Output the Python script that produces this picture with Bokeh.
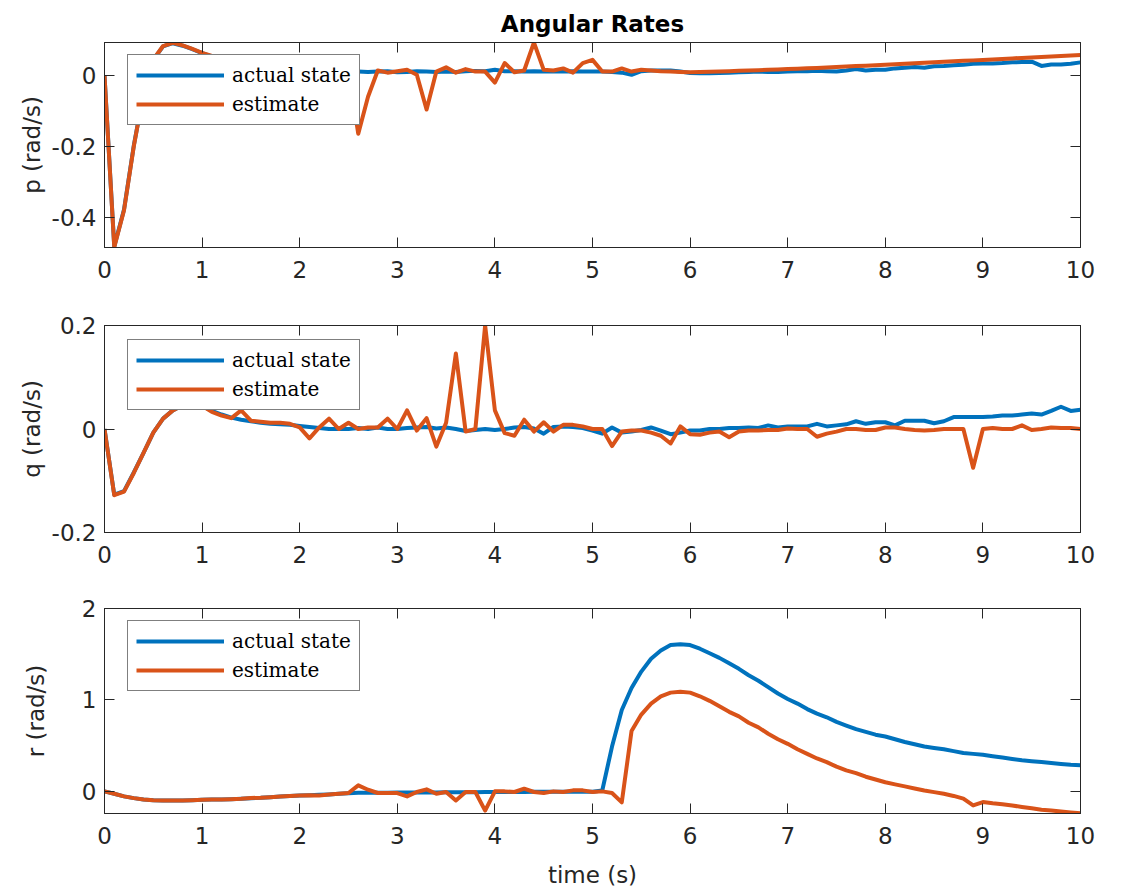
from bokeh.plotting import figure
from bokeh.layouts import column
from bokeh.models import Range1d, FixedTicker, LinearAxis, CustomJSTickFormatter
from bokeh.embed import file_html
from bokeh.resources import INLINE

# ---------------- data ----------------
time_s = [0.0, 0.1, 0.2, 0.3, 0.4, 0.5, 0.6, 0.7, 0.8, 0.9,
          1.0, 1.1, 1.2, 1.3, 1.4, 1.5, 1.6, 1.7, 1.8, 1.9,
          2.0, 2.1, 2.2, 2.3, 2.4, 2.5, 2.6, 2.7, 2.8, 2.9,
          3.0, 3.1, 3.2, 3.3, 3.4, 3.5, 3.6, 3.7, 3.8, 3.9,
          4.0, 4.1, 4.2, 4.3, 4.4, 4.5, 4.6, 4.7, 4.8, 4.9,
          5.0, 5.1, 5.2, 5.3, 5.4, 5.5, 5.6, 5.7, 5.8, 5.9,
          6.0, 6.1, 6.2, 6.3, 6.4, 6.5, 6.6, 6.7, 6.8, 6.9,
          7.0, 7.1, 7.2, 7.3, 7.4, 7.5, 7.6, 7.7, 7.8, 7.9,
          8.0, 8.1, 8.2, 8.3, 8.4, 8.5, 8.6, 8.7, 8.8, 8.9,
          9.0, 9.1, 9.2, 9.3, 9.4, 9.5, 9.6, 9.7, 9.8, 9.9, 10.0]

p_actual = [0.0, -0.482, -0.378, -0.198, -0.05, 0.044, 0.082, 0.091, 0.084, 0.074,
            0.063, 0.054, 0.047, 0.04, 0.035, 0.031, 0.028, 0.025, 0.022, 0.02,
            0.018, 0.016, 0.015, 0.014, 0.013, 0.012, 0.011, 0.01, 0.011, 0.012,
            0.009, 0.01, 0.012, 0.011, 0.01, 0.011, 0.01, 0.012, 0.013, 0.012,
            0.016, 0.012, 0.012, 0.011, 0.012, 0.011, 0.012, 0.011, 0.012, 0.011,
            0.011, 0.011, 0.01, 0.008, 0.002, 0.012, 0.014, 0.014, 0.014, 0.011,
            0.007, 0.006, 0.006, 0.007, 0.008, 0.009, 0.01, 0.011, 0.01, 0.01,
            0.011, 0.012, 0.012, 0.013, 0.012, 0.011, 0.014, 0.018, 0.014, 0.016,
            0.016, 0.02, 0.022, 0.024, 0.022, 0.026, 0.027, 0.029, 0.03, 0.033,
            0.034, 0.034, 0.035, 0.037, 0.038, 0.039, 0.027, 0.031, 0.031, 0.033, 0.037]

p_estimate = [0.0, -0.484, -0.38, -0.2, -0.05, 0.045, 0.083, 0.092, 0.085, 0.075,
              0.064, 0.055, 0.048, 0.042, 0.037, 0.033, 0.03, 0.027, 0.025, 0.022,
              0.02, 0.018, 0.016, 0.015, 0.014, 0.013, -0.164, -0.06, 0.014, 0.008,
              0.012, 0.016, 0.002, -0.096, 0.011, 0.023, 0.008, 0.018, 0.011, 0.011,
              -0.02, 0.035, 0.009, 0.014, 0.093, 0.016, 0.014, 0.02, 0.008, 0.035,
              0.044, 0.011, 0.011, 0.02, 0.011, 0.016, 0.014, 0.012, 0.011, 0.01,
              0.009, 0.0098, 0.0106, 0.0114, 0.0122, 0.013, 0.014, 0.015, 0.016, 0.017,
              0.018, 0.019, 0.0202, 0.0214, 0.0226, 0.024, 0.0252, 0.0264, 0.0276, 0.0288,
              0.03, 0.0314, 0.0328, 0.0342, 0.0356, 0.037, 0.0384, 0.0398, 0.0412, 0.0426,
              0.044, 0.0454, 0.0468, 0.0482, 0.0496, 0.051, 0.0524, 0.0538, 0.0552, 0.0566, 0.058]

q_actual = [0.0, -0.127, -0.12, -0.084, -0.046, -0.007, 0.02, 0.036, 0.046, 0.05,
            0.045, 0.035, 0.028, 0.022, 0.018, 0.015, 0.012, 0.01, 0.009, 0.008,
            0.006, 0.004, 0.002, 0.0, 0.0, 0.0, 0.002, 0.0, 0.003, 0.0,
            0.0, 0.002, 0.003, 0.004, 0.001, 0.003, 0.0, -0.004, -0.002, 0.0,
            -0.002, 0.0, 0.003, 0.004, 0.001, -0.009, 0.004, 0.005, 0.004, 0.002,
            -0.003, -0.009, 0.003, -0.007, -0.005, -0.002, 0.003, -0.003, -0.01, -0.007,
            -0.003, -0.003, 0.0, 0.0, 0.002, 0.002, 0.003, 0.002, 0.007, 0.003,
            0.005, 0.005, 0.005, 0.01, 0.005, 0.007, 0.009, 0.015, 0.01, 0.013,
            0.013, 0.007, 0.016, 0.016, 0.016, 0.011, 0.015, 0.023, 0.023, 0.023,
            0.023, 0.024, 0.026, 0.026, 0.028, 0.03, 0.028, 0.035, 0.043, 0.035, 0.037]

q_estimate = [0.0, -0.128, -0.121, -0.085, -0.046, -0.007, 0.02, 0.036, 0.046, 0.05,
              0.045, 0.033, 0.026, 0.021, 0.036, 0.016, 0.014, 0.012, 0.012, 0.01,
              0.003, -0.018, 0.003, 0.02, 0.0, 0.012, 0.0, 0.003, 0.003, 0.02,
              0.0, 0.036, -0.003, 0.021, -0.034, 0.012, 0.146, -0.005, 0.0, 0.2,
              0.036, -0.008, -0.013, 0.018, -0.005, 0.013, -0.005, 0.008, 0.008, 0.005,
              0.0, 0.0, -0.033, -0.005, -0.003, -0.003, -0.007, -0.013, -0.028, 0.005,
              -0.01, -0.011, -0.007, -0.005, -0.016, -0.005, -0.003, -0.003, -0.002, -0.002,
              0.001, 0.0, 0.0, -0.015, -0.009, -0.005, 0.0, 0.0, -0.002, -0.002,
              0.003, 0.003, 0.0, -0.002, -0.003, -0.002, 0.0, 0.0, 0.0, -0.075,
              0.0, 0.002, 0.0, 0.0, 0.007, -0.002, 0.0, 0.003, 0.002, 0.002, 0.0]

r_actual = [0.0, -0.026, -0.055, -0.074, -0.088, -0.096, -0.1, -0.1, -0.1, -0.096,
            -0.092, -0.09, -0.088, -0.085, -0.08, -0.074, -0.07, -0.063, -0.057, -0.051,
            -0.046, -0.042, -0.038, -0.033, -0.026, -0.02, -0.016, -0.015, -0.014, -0.014,
            -0.013, -0.013, -0.012, -0.012, -0.011, -0.01, -0.01, -0.009, -0.009, -0.008,
            -0.008, -0.007, -0.007, -0.006, -0.005, -0.004, -0.004, -0.004, -0.004, -0.004,
            -0.004, 0.01, 0.49, 0.89, 1.13, 1.31, 1.45, 1.54, 1.6, 1.61,
            1.6, 1.56, 1.51, 1.46, 1.4, 1.34, 1.27, 1.21, 1.14, 1.07,
            1.01, 0.96, 0.9, 0.85, 0.81, 0.76, 0.72, 0.68, 0.65, 0.62,
            0.6, 0.57, 0.54, 0.515, 0.49, 0.475, 0.46, 0.44, 0.42, 0.41,
            0.4, 0.385, 0.37, 0.355, 0.34, 0.33, 0.32, 0.31, 0.3, 0.29, 0.285]

r_estimate = [0.0, -0.026, -0.055, -0.074, -0.088, -0.096, -0.1, -0.1, -0.1, -0.096,
              -0.092, -0.09, -0.088, -0.085, -0.08, -0.072, -0.07, -0.063, -0.055, -0.05,
              -0.044, -0.042, -0.044, -0.033, -0.026, -0.018, 0.066, 0.018, -0.018, -0.018,
              -0.018, -0.055, -0.007, 0.022, -0.026, -0.007, -0.1, -0.007, -0.007, -0.21,
              0.0, 0.0, -0.007, 0.03, -0.007, -0.018, 0.0, -0.007, 0.011, 0.011,
              -0.007, 0.0, -0.018, -0.12, 0.66, 0.84, 0.96, 1.04, 1.08, 1.09,
              1.08, 1.04, 0.99, 0.93, 0.87, 0.82, 0.75, 0.7, 0.63, 0.57,
              0.52, 0.46, 0.41, 0.36, 0.32, 0.27, 0.23, 0.2, 0.16, 0.13,
              0.1, 0.077, 0.055, 0.032, 0.01, -0.008, -0.026, -0.05, -0.08, -0.154,
              -0.117, -0.13, -0.14, -0.155, -0.17, -0.185, -0.2, -0.21, -0.22, -0.23, -0.24]

x_ticks = [0, 1, 2, 3, 4, 5, 6, 7, 8, 9, 10]
p_ticks = [-0.4, -0.2, 0]
q_ticks = [-0.2, 0, 0.2]
r_ticks = [0, 1, 2]

# ---------------- style ----------------
BLUE = "#0072BD"
ORANGE = "#D95319"
AXC = "#262626"
SANS = "DejaVu Sans"
SERIF = "DejaVu Serif"
FMT = CustomJSTickFormatter(code="return String(Math.round(tick*10)/10)")


def blank():
    return CustomJSTickFormatter(code="return ''")


def make_panel(actual, estimate, ylab, yticks, yr, height, top, bottom,
               title=None, xlabel=None, ylab_standoff=4):
    p = figure(width=1122, height=height, output_backend="svg",
               toolbar_location=None, x_range=Range1d(0, 10), y_range=Range1d(*yr),
               min_border_left=104, min_border_right=42,
               min_border_top=top, min_border_bottom=bottom,
               background_fill_color="white", border_fill_color="white")
    p.grid.visible = False
    p.outline_line_color = AXC
    p.outline_line_width = 1

    p.line(time_s, actual, line_color=BLUE, line_width=4, line_join="round",
           legend_label="actual state")
    p.line(time_s, estimate, line_color=ORANGE, line_width=4, line_join="round",
           legend_label="estimate")

    for ax in (p.xaxis[0], p.yaxis[0]):
        ax.major_tick_in = 10
        ax.major_tick_out = 0
        ax.minor_tick_line_color = None
        ax.axis_line_color = AXC
        ax.major_tick_line_color = AXC
        ax.major_label_text_color = AXC
        ax.major_label_text_font = SANS
        ax.major_label_text_font_size = "23px"
        ax.axis_label_text_font = SANS
        ax.axis_label_text_font_size = "23px"
        ax.axis_label_text_font_style = "normal"
        ax.axis_label_text_color = AXC

    p.xaxis[0].ticker = FixedTicker(ticks=x_ticks)
    p.xaxis[0].formatter = FMT
    p.xaxis[0].major_label_standoff = 13
    p.yaxis[0].ticker = FixedTicker(ticks=yticks)
    p.yaxis[0].formatter = FMT
    p.yaxis[0].major_label_standoff = 8
    p.yaxis[0].axis_label = ylab
    p.yaxis[0].axis_label_standoff = ylab_standoff
    if xlabel:
        p.xaxis[0].axis_label = xlabel
        p.xaxis[0].axis_label_standoff = 15

    # mirrored inner ticks on the top and right edges
    right = LinearAxis(ticker=FixedTicker(ticks=yticks), formatter=blank(),
                       major_tick_in=10, major_tick_out=0, minor_tick_line_color=None,
                       axis_line_color=AXC, major_tick_line_color=AXC,
                       major_label_text_font_size="0px", major_label_standoff=0)
    top_ax = LinearAxis(ticker=FixedTicker(ticks=x_ticks), formatter=blank(),
                        major_tick_in=10, major_tick_out=0, minor_tick_line_color=None,
                        axis_line_color=AXC, major_tick_line_color=AXC,
                        major_label_text_font_size="0px", major_label_standoff=0)
    p.add_layout(right, "right")
    p.add_layout(top_ax, "above")

    if title:
        p.title.text = title
        p.title.align = "center"
        p.title.text_font = SANS
        p.title.text_font_size = "23px"
        p.title.text_font_style = "bold"
        p.title.text_color = "black"
        p.title.offset = 0
        p.title.standoff = 11

    lg = p.legend[0]
    lg.location = (23, 122)
    lg.border_line_color = "black"
    lg.border_line_width = 1
    lg.background_fill_color = "white"
    lg.background_fill_alpha = 1
    lg.label_text_font = SERIF
    lg.label_text_font_size = "20px"
    lg.label_text_color = "black"
    lg.glyph_width = 88
    lg.glyph_height = 20
    lg.label_height = 20
    lg.label_standoff = 8
    lg.spacing = 5
    lg.padding = 8
    lg.margin = 0
    return p


p1 = make_panel(p_actual, p_estimate, "p (rad/s)", p_ticks, (-0.485, 0.093),
                290, 42, 43, title="Angular Rates", ylab_standoff=4)
p2 = make_panel(q_actual, q_estimate, "q (rad/s)", q_ticks, (-0.2, 0.2),
                285, 35, 43, ylab_standoff=4)
p3 = make_panel(r_actual, r_estimate, "r (rad/s)", r_ticks, (-0.242, 2.0),
                318, 33, 80, xlabel="time (s)", ylab_standoff=30)

layout = column(p1, p2, p3, spacing=0)
open("out.html", "w").write(file_html(layout, INLINE))
